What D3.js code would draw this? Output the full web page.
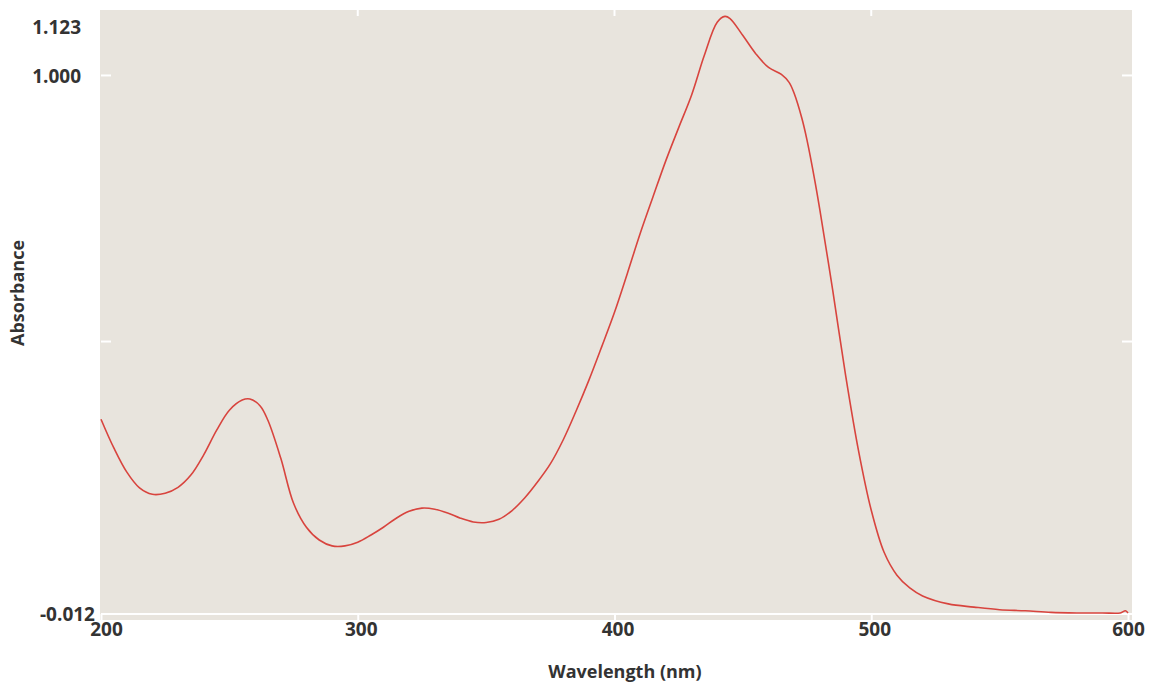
<!DOCTYPE html>
<html>
<head>
<meta charset="utf-8">
<script src="https://cdn.jsdelivr.net/npm/d3@7"></script>
<style>
  body { margin: 0; background: #ffffff; }
  svg text { font-family: "Open Sans", "Noto Sans", sans-serif; font-weight: 700; fill: #333333; }
</style>
</head>
<body>
<svg id="chart"></svg>
<script>
// wavelength (nm) and absorbance
const wavelengths = [200, 205, 210, 215, 220, 225, 230, 235, 240, 245, 250, 255, 258, 262, 265, 270, 275, 280, 285, 290, 295, 300, 305, 310, 315, 320, 325, 330, 335, 340, 345, 350, 355, 360, 365, 370, 375, 380, 385, 390, 395, 400, 405, 410, 415, 420, 425, 430, 435, 440, 443, 445, 450, 455, 460, 465, 468, 470, 473, 475, 478, 480, 485, 490, 495, 500, 505, 510, 515, 520, 530, 540, 550, 560, 570, 580, 590, 597, 599, 600];
const absorbance = [0.354, 0.300, 0.255, 0.225, 0.213, 0.215, 0.226, 0.249, 0.287, 0.333, 0.371, 0.390, 0.392, 0.379, 0.352, 0.281, 0.196, 0.151, 0.127, 0.116, 0.116, 0.123, 0.136, 0.151, 0.168, 0.181, 0.187, 0.185, 0.178, 0.168, 0.161, 0.160, 0.166, 0.182, 0.206, 0.236, 0.270, 0.315, 0.369, 0.427, 0.490, 0.555, 0.628, 0.703, 0.772, 0.840, 0.902, 0.963, 1.038, 1.100, 1.111, 1.107, 1.075, 1.041, 1.015, 1.002, 0.987, 0.966, 0.919, 0.878, 0.803, 0.747, 0.596, 0.437, 0.296, 0.183, 0.104, 0.061, 0.037, 0.022, 0.007, 0.001, -0.004, -0.006, -0.009, -0.010, -0.010, -0.010, -0.006, -0.010];

const xTicks = [200, 300, 400, 500, 600];
const yTicks = [-0.012, 0.5, 1.0, 1.123];
const yTickLabels = ["-0.012", "", "1.000", "1.123"];

const dataSet = wavelengths.map((w, i) => ({ wl: w, abs: absorbance[i] }));

let dimensions = {
  width: 1151,
  height: 685,
  left: 101,
  right: 1128,
  top: 10,
  bottom: 614,
};

const svg = d3
  .select("#chart")
  .attr("width", dimensions.width)
  .attr("height", dimensions.height);

const xScale = d3
  .scaleLinear()
  .domain([200, 600])
  .range([dimensions.left, dimensions.right]);

const yScale = d3
  .scaleLinear()
  .domain([-0.012, 1.123])
  .range([dimensions.bottom, dimensions.top]);

// plot background
svg
  .append("rect")
  .attr("x", dimensions.left - 1)
  .attr("y", dimensions.top)
  .attr("width", dimensions.right - dimensions.left + 5)
  .attr("height", dimensions.bottom - dimensions.top + 6)
  .attr("fill", "#e8e4dd");

// white inner ticks, left / right / top
const tickGroup = svg.append("g").attr("stroke", "#ffffff").attr("stroke-width", 2);
yTicks.slice(1, 3).forEach((t) => {
  tickGroup.append("line")
    .attr("x1", dimensions.left).attr("x2", dimensions.left + 10)
    .attr("y1", yScale(t)).attr("y2", yScale(t));
  tickGroup.append("line")
    .attr("x1", dimensions.right - 6).attr("x2", dimensions.right + 4)
    .attr("y1", yScale(t)).attr("y2", yScale(t));
});
xTicks.slice(1, 4).forEach((t) => {
  tickGroup.append("line")
    .attr("x1", xScale(t)).attr("x2", xScale(t))
    .attr("y1", dimensions.top).attr("y2", dimensions.top + 6);
});

// bottom axis
const xAxis = d3.axisBottom(xScale).tickValues(xTicks).tickSize(6).tickPadding(6);
const xg = svg
  .append("g")
  .attr("transform", `translate(0, ${dimensions.bottom})`)
  .call(xAxis);
xg.select(".domain").attr("stroke", "#ffffff").attr("stroke-width", 2)
  .attr("d", `M${dimensions.left},0H${dimensions.right + 4}`);
xg.selectAll(".tick line").attr("stroke", "#ffffff").attr("stroke-width", 2);
xg.selectAll(".tick text")
  .style("font-size", "19px")
  .attr("dx", (d) => (d === 200 ? 5 : d === 600 ? 0 : 3))
  .attr("y", 9);

// left axis
const yAxis = d3
  .axisLeft(yScale)
  .tickValues(yTicks)
  .tickSize(0)
  .tickFormat((d, i) => yTickLabels[i]);
const yg = svg
  .append("g")
  .attr("transform", `translate(${dimensions.left}, 0)`)
  .call(yAxis);
yg.select(".domain").remove();
yg.selectAll(".tick text")
  .style("font-size", "19px")
  .attr("x", (d) => (d === -0.012 ? -6 : -20))
  .attr("dy", (d) => (d === 1.123 ? "1.25em" : "0.35em"));

// spectrum
const lineGenerator = d3
  .line()
  .x((d) => xScale(d.wl))
  .y((d) => yScale(d.abs))
  .curve(d3.curveCatmullRom.alpha(0.5));

svg
  .append("path")
  .datum(dataSet)
  .attr("fill", "none")
  .attr("stroke", "#d8443e")
  .attr("stroke-width", 1.6)
  .attr("d", lineGenerator);

// axis titles
svg
  .append("text")
  .attr("x", 625)
  .attr("y", 678)
  .attr("text-anchor", "middle")
  .style("font-size", "18px")
  .text("Wavelength (nm)");

svg
  .append("text")
  .attr("transform", `translate(24, 293) rotate(-90)`)
  .attr("text-anchor", "middle")
  .style("font-size", "18px")
  .text("Absorbance");
</script>
</body>
</html>
